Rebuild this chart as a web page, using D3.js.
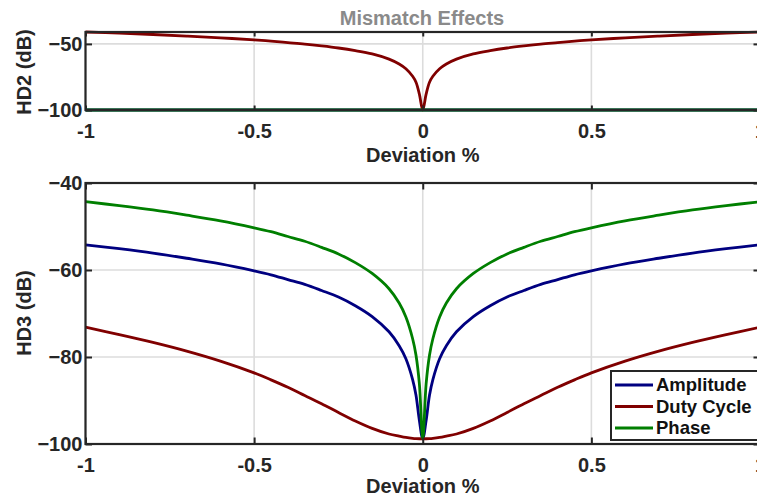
<!DOCTYPE html>
<html>
<head>
<meta charset="utf-8">
<script src="https://cdn.jsdelivr.net/npm/d3@7"></script>
<style>
  html, body { margin: 0; padding: 0; background: #fff; }
  svg { display: block; font-family: "Liberation Sans", Arial, sans-serif; font-weight: bold; }
</style>
</head>
<body>
<svg id="chart" width="757" height="497"></svg>
<script>
// Deviation (%) sample points shared by every series
const deviation = [-1, -0.9, -0.8, -0.7, -0.6, -0.5, -0.45, -0.4, -0.35, -0.3, -0.25, -0.2, -0.15, -0.1, -0.07, -0.05, -0.03, -0.02, -0.01, 0,
                   0.01, 0.02, 0.03, 0.05, 0.07, 0.1, 0.15, 0.2, 0.25, 0.3, 0.35, 0.4, 0.45, 0.5, 0.6, 0.7, 0.8, 0.9, 1];

// Second harmonic distortion (dB)
const hd2Amplitude = [-100, -100, -100, -100, -100, -100, -100, -100, -100, -100, -100, -100, -100, -100, -100, -100, -100, -100, -100, -100,
                      -100, -100, -100, -100, -100, -100, -100, -100, -100, -100, -100, -100, -100, -100, -100, -100, -100, -100, -100];
const hd2DutyCycle = [-41.0, -41.9, -42.9, -44.1, -45.4, -47.0, -47.9, -49.0, -50.1, -51.5, -53.1, -55.1, -57.6, -61.5, -65.2, -68.8, -74.5, -79.0, -88.0, -100,
                      -88.0, -79.0, -74.5, -68.8, -65.2, -61.5, -57.6, -55.1, -53.1, -51.5, -50.1, -49.0, -47.9, -47.0, -45.4, -44.1, -42.9, -41.9, -41.0];
const hd2Phase = [-100, -100, -100, -100, -100, -100, -100, -100, -100, -100, -100, -100, -100, -100, -100, -100, -100, -100, -100, -100,
                  -100, -100, -100, -100, -100, -100, -100, -100, -100, -100, -100, -100, -100, -100, -100, -100, -100, -100, -100];

// Third harmonic distortion (dB)
const hd3Amplitude = [-54.2, -55.1, -56.1, -57.3, -58.6, -60.2, -61.1, -62.2, -63.3, -64.7, -66.2, -68.2, -70.7, -74.2, -77.4, -80.4, -85.2, -88.8, -94.6, -98.8,
                      -94.6, -88.8, -85.2, -80.4, -77.4, -74.2, -70.7, -68.2, -66.2, -64.7, -63.3, -62.2, -61.1, -60.2, -58.6, -57.3, -56.1, -55.1, -54.2];
const hd3DutyCycle = [-73.15, -74.85, -76.65, -78.65, -80.95, -83.65, -85.25, -86.95, -88.85, -90.75, -92.75, -94.7, -96.4, -97.7, -98.2, -98.5, -98.7, -98.76, -98.79, -98.8,
                      -98.79, -98.76, -98.7, -98.5, -98.2, -97.7, -96.4, -94.7, -92.75, -90.75, -88.85, -86.95, -85.25, -83.65, -80.95, -78.65, -76.65, -74.85, -73.15];
const hd3Phase = [-44.3, -45.2, -46.2, -47.4, -48.7, -50.3, -51.2, -52.3, -53.4, -54.8, -56.3, -58.3, -60.8, -64.3, -67.6, -70.8, -75.8, -79.6, -86.2, -98.8,
                  -86.2, -79.6, -75.8, -70.8, -67.6, -64.3, -60.8, -58.3, -56.3, -54.8, -53.4, -52.3, -51.2, -50.3, -48.7, -47.4, -46.2, -45.2, -44.3];

const seriesNames = ["Amplitude", "Duty Cycle", "Phase"];
const seriesColors = ["#000080", "#800000", "#007f00"];

const xTicks = [-1, -0.5, 0, 0.5, 1];
const xTickLabels = ["-1", "-0.5", "0", "0.5", "1"];
const hd2Ticks = [-100, -50];
const hd3Ticks = [-100, -80, -60, -40];

const titleText = "Mismatch Effects";
const xLabel = "Deviation %";
const hd2Label = "HD2 (dB)";
const hd3Label = "HD3 (dB)";

const svg = d3.select("#chart");
const ink = "#262626";
const left = 85.5, right = 760;

const x = d3.scaleLinear().domain([-1, 1]).range([left, right]);

function panel(cfg) {
  const { top, bottom, y, yTicks, series, yLabel, yLabelY, xLabelY, xTick } = cfg;
  const g = svg.append("g");
  const h = bottom - top;

  // grid
  g.append("g").selectAll("line").data(xTicks).join("line")
    .attr("x1", d => x(d)).attr("x2", d => x(d)).attr("y1", top).attr("y2", bottom)
    .attr("stroke", "#dcdcdc").attr("stroke-width", 1.6);
  g.append("g").selectAll("line").data(yTicks).join("line")
    .attr("x1", left).attr("x2", right).attr("y1", d => y(d)).attr("y2", d => y(d))
    .attr("stroke", "#dcdcdc").attr("stroke-width", 1.6);

  // series lines
  const line = d3.line().curve(d3.curveCatmullRom.alpha(0.5)).x(d => x(d[0])).y(d => y(d[1]));
  series.forEach((vals, i) => {
    g.append("path")
      .datum(deviation.map((v, k) => [v, vals[k]]))
      .attr("d", line)
      .attr("fill", "none")
      .attr("stroke", seriesColors[i])
      .attr("stroke-width", 2.8)
      .attr("stroke-linejoin", "round");
  });

  const styleAxis = sel => {
    sel.select(".domain").remove();
    sel.selectAll(".tick line").attr("stroke", ink).attr("stroke-width", 2);
    sel.selectAll(".tick text").attr("fill", ink).style("font-size", "20px").style("font-weight", "bold")
      .style("font-family", "'Liberation Sans', Arial, sans-serif");
  };

  // bottom axis with labels, inward ticks
  g.append("g").attr("transform", `translate(0,${bottom})`)
    .call(d3.axisBottom(x).tickValues(xTicks).tickFormat((d, i) => xTickLabels[i])
      .tickSizeInner(-xTick).tickSizeOuter(0).tickPadding(13.5))
    .call(styleAxis);
  // top axis ticks
  g.append("g").attr("transform", `translate(0,${top})`)
    .call(d3.axisTop(x).tickValues(xTicks).tickFormat("").tickSizeInner(-xTick).tickSizeOuter(0))
    .call(styleAxis);
  // left axis with labels
  g.append("g").attr("transform", `translate(${left},0)`)
    .call(d3.axisLeft(y).tickValues(yTicks).tickFormat(d3.format("d"))
      .tickSizeInner(-6.5).tickSizeOuter(0).tickPadding(3))
    .call(styleAxis);
  // right axis ticks
  g.append("g").attr("transform", `translate(${right},0)`)
    .call(d3.axisRight(y).tickValues(yTicks).tickFormat("").tickSizeInner(-6.5).tickSizeOuter(0))
    .call(styleAxis);

  // frame
  g.append("rect").attr("x", left).attr("y", top).attr("width", right - left).attr("height", h)
    .attr("fill", "none").attr("stroke", ink).attr("stroke-width", 2.2);

  // axis labels
  g.append("text").attr("x", (left + right) / 2).attr("y", xLabelY)
    .attr("text-anchor", "middle").attr("fill", ink).style("font-size", "20px").text(xLabel);
  g.append("text").attr("transform", `translate(31,${yLabelY}) rotate(-90)`)
    .attr("text-anchor", "middle").attr("fill", ink).style("font-size", "20px").text(yLabel);
  return g;
}

// HD2 panel
const yTop = d3.scaleLinear().domain([-100, d3.max(hd2DutyCycle)]).range([110, 32]);
panel({ top: 32, bottom: 110, y: yTop, yTicks: hd2Ticks,
        series: [hd2Amplitude, hd2DutyCycle, hd2Phase],
        yLabel: hd2Label, yLabelY: 72, xLabelY: 162, xTick: 4.5 });

// HD3 panel
const yBot = d3.scaleLinear().domain([-100, -40]).range([444, 183]);
const p2 = panel({ top: 183, bottom: 444, y: yBot, yTicks: hd3Ticks,
        series: [hd3Amplitude, hd3DutyCycle, hd3Phase],
        yLabel: hd3Label, yLabelY: 313, xLabelY: 493, xTick: 6.5 });

// title
svg.append("text").attr("x", 422).attr("y", 25).attr("text-anchor", "middle")
  .attr("fill", "#8a8a8a").style("font-size", "20px").text(titleText);

// legend
const lg = p2.append("g");
lg.append("rect").attr("x", 611).attr("y", 371).attr("width", 160).attr("height", 69)
  .attr("fill", "#fff").attr("stroke", ink).attr("stroke-width", 2);
const rowY = d3.scalePoint().domain(seriesNames).range([385, 428]);
seriesNames.forEach((name, i) => {
  lg.append("line").attr("x1", 615).attr("x2", 653).attr("y1", rowY(name)).attr("y2", rowY(name))
    .attr("stroke", seriesColors[i]).attr("stroke-width", 2.8);
  lg.append("text").attr("x", 656).attr("y", rowY(name)).attr("dy", "0.35em")
    .attr("fill", "#111").style("font-size", "18.5px").text(name);
});
</script>
</body>
</html>
